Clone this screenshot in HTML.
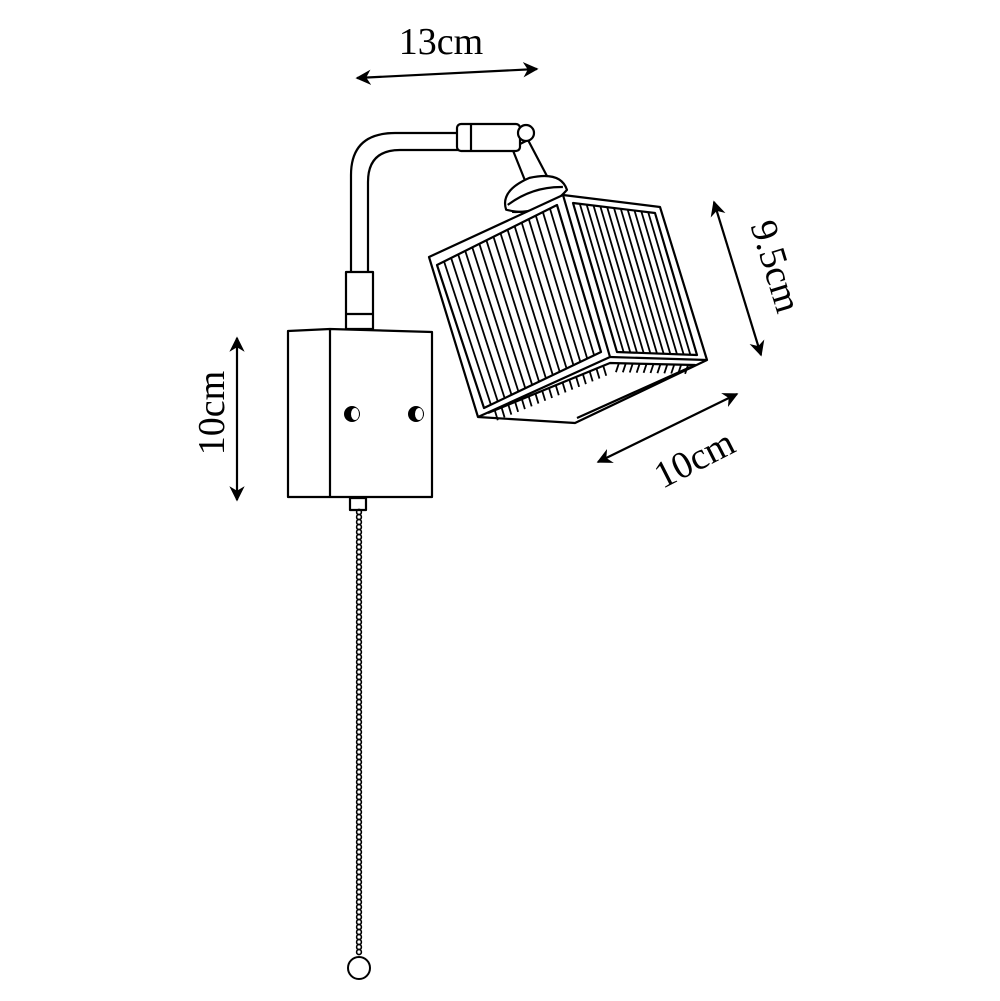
<!DOCTYPE html>
<html><head><style>html,body{margin:0;background:#fff}svg{display:block}</style></head>
<body>
<svg id="s" width="1000" height="1001" viewBox="0 0 1000 1001" xmlns="http://www.w3.org/2000/svg">
<defs>
<marker id="a" viewBox="0 0 10 10" refX="9" refY="5" markerWidth="7" markerHeight="7" orient="auto-start-reverse"><path d="M0,0 L10,5 L0,10 L3,5 z" fill="#000"/></marker>
</defs>
<g fill="none" stroke="#000" stroke-width="2.2" stroke-linejoin="round">
<!-- pipe -->
<path d="M351,272 V175 Q351,133 395,133 H458"/>
<path d="M368,272 V182 Q368,150 400,150 H458"/>
<rect x="346" y="272" width="27" height="57" fill="#fff"/>
<line x1="346" y1="314" x2="373" y2="314"/>
<!-- socket -->
<path d="M512,148 L528,140 L548,178 L528,188 Z" fill="#fff"/>
<g transform="rotate(-18 535 195)">
<path d="M503,200 Q503,180 535,177 Q567,180 567,200 Q550,210 535,210 Q518,210 503,200 Z" fill="#fff"/>
<path d="M506,196 Q535,186 564,196"/>
<path d="M508,204 Q535,214 562,204"/>
</g>
<!-- coupler -->
<rect x="457" y="124" width="63" height="27" rx="4" fill="#fff"/>
<line x1="471" y1="124" x2="471" y2="151"/>
<circle cx="526" cy="133" r="8" fill="#fff"/>
<!-- box -->
<path d="M288,331 L330,329 L432,332 V497 H288 Z" fill="#fff"/>
<line x1="330" y1="329" x2="330" y2="497"/>
<rect x="350" y="498" width="16" height="12"/>
<!-- cube -->
<path d="M429,257 L563,195 L660,207 L707,360 L575,423 L478,417 Z" fill="#fff"/>
<path d="M563,195 L610,357 L478,417"/>
<line x1="610" y1="357" x2="707" y2="360"/>
<path d="M437,265 L557,205 L601,352 L484,408 Z"/>
<path d="M573,203 L655,213 L697,355 L617,352 Z"/>
<path d="M488,413 L610,363 L695,365 L577,418"/>
<g id="st" stroke-width="1.8"></g>
</g>
<!-- chain -->
<g id="ch" fill="none" stroke="#000" stroke-width="1.6"></g>
<circle cx="359" cy="968" r="11" fill="#fff" stroke="#000" stroke-width="2"/>
<!-- screws -->
<g>
<ellipse cx="352" cy="414" rx="8" ry="8" fill="#000"/><ellipse cx="355" cy="414" rx="4" ry="6" fill="#fff"/>
<ellipse cx="416" cy="414" rx="8" ry="8" fill="#000"/><ellipse cx="419" cy="414" rx="4" ry="6" fill="#fff"/>
</g>
<!-- dimension arrows -->
<g stroke="#000" stroke-width="2.2" fill="none">
<line x1="357" y1="78" x2="537" y2="69" marker-start="url(#a)" marker-end="url(#a)"/>
<line x1="237" y1="338" x2="237" y2="500" marker-start="url(#a)" marker-end="url(#a)"/>
<line x1="714" y1="202" x2="761" y2="355" marker-start="url(#a)" marker-end="url(#a)"/>
<line x1="598" y1="462" x2="737" y2="394" marker-start="url(#a)" marker-end="url(#a)"/>
</g>
<g font-family="Liberation Serif, serif" font-size="38" fill="#000" text-anchor="middle">
<text x="441" y="54">13cm</text>
<text transform="translate(224,413) rotate(-90)">10cm</text>
<text transform="translate(764,270) rotate(73)">9.5cm</text>
<text transform="translate(700,470) rotate(-27)">10cm</text>
</g>
</svg>
<script>
var NS="http://www.w3.org/2000/svg",st=document.getElementById('st');
function L(x1,y1,x2,y2){var l=document.createElementNS(NS,'line');l.setAttribute('x1',x1);l.setAttribute('y1',y1);l.setAttribute('x2',x2);l.setAttribute('y2',y2);st.appendChild(l);}
function face(a,b,c,d,n){for(var i=1;i<n;i++){var t=i/n;L(a[0]+(b[0]-a[0])*t,a[1]+(b[1]-a[1])*t,d[0]+(c[0]-d[0])*t,d[1]+(c[1]-d[1])*t);}}
face([437,265],[557,205],[601,352],[484,408],17);
face([573,203],[655,213],[697,355],[617,352],12);
for(var i=1;i<18;i++){var t=i/18;var x1=488+(610-488)*t,y1=413+(363-413)*t;L(x1,y1,x1+3,y1+10);}
for(var i=1;i<12;i++){var t=i/12;var x1=612+(695-612)*t,y1=363+(365-363)*t;L(x1,y1,x1-3,y1+9);}
var ch=document.getElementById('ch');
for(var y=512;y<955;y+=5){var e=document.createElementNS(NS,'ellipse');e.setAttribute('cx',359);e.setAttribute('cy',y);e.setAttribute('rx',2.4);e.setAttribute('ry',2.6);ch.appendChild(e);}
</script>
</body></html>
